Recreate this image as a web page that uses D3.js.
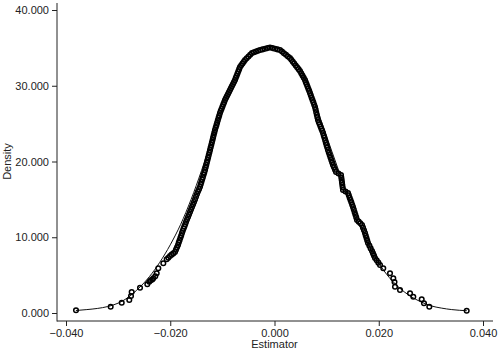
<!DOCTYPE html>
<html>
<head>
<meta charset="utf-8">
<title>Density of the estimator</title>
<script src="https://d3js.org/d3.v7.min.js"></script>
<style>
    body { margin: 0; background: #fff; }
    svg text { font-family: "Liberation Sans", Arial, sans-serif; fill: #222; }
</style>
</head>
<body>
<svg id="chart" width="498" height="351"></svg>
<script>
// kernel density evaluated at each estimate: [estimator, density]
const kdePoints = [
    [-0.03808, 0.36], [-0.03143, 0.83], [-0.02931, 1.36], [-0.02786, 1.72], [-0.02753, 2.24],
    [-0.02740, 2.77], [-0.02580, 3.34], [-0.02440, 3.79], [-0.02402, 4.13], [-0.02373, 4.33],
    [-0.02344, 4.42], [-0.02325, 4.58], [-0.02287, 4.84], [-0.02260, 5.24], [-0.02229, 5.90],
    [-0.02133, 6.56], [-0.02068, 7.09],
    [-0.02037, 7.30], [-0.02005, 7.52], [-0.01973, 7.70], [-0.01941, 7.87], [-0.01909, 8.05],
    [-0.01890, 8.36], [-0.01870, 8.67], [-0.01851, 8.98], [-0.01836, 9.30], [-0.01821, 9.61],
    [-0.01805, 9.93], [-0.01790, 10.24], [-0.01775, 10.56], [-0.01760, 10.85], [-0.01744, 11.14],
    [-0.01729, 11.43], [-0.01713, 11.72], [-0.01698, 12.01], [-0.01679, 12.34], [-0.01659, 12.67],
    [-0.01640, 13.00], [-0.01621, 13.33], [-0.01602, 13.66], [-0.01583, 13.99], [-0.01563, 14.32],
    [-0.01544, 14.65], [-0.01525, 15.00], [-0.01506, 15.36], [-0.01487, 15.71], [-0.01468, 16.03],
    [-0.01448, 16.35],
    [-0.01429, 16.67], [-0.01415, 16.99], [-0.01402, 17.30], [-0.01388, 17.62], [-0.01374, 17.93],
    [-0.01360, 18.25], [-0.01347, 18.56], [-0.01333, 18.88], [-0.01321, 19.21], [-0.01309, 19.54],
    [-0.01297, 19.87], [-0.01285, 20.20], [-0.01273, 20.53], [-0.01261, 20.86], [-0.01249, 21.19],
    [-0.01237, 21.52], [-0.01225, 21.85], [-0.01213, 22.18], [-0.01201, 22.51], [-0.01189, 22.84],
    [-0.01178, 23.17], [-0.01166, 23.50], [-0.01154, 23.83], [-0.01142, 24.16], [-0.01128, 24.48],
    [-0.01114, 24.80], [-0.01101, 25.12], [-0.01087, 25.44], [-0.01073, 25.76], [-0.01060, 26.08],
    [-0.01046, 26.40], [-0.01030, 26.69], [-0.01014, 26.97], [-0.00998, 27.26], [-0.00982, 27.55],
    [-0.00966, 27.83], [-0.00950, 28.12], [-0.00931, 28.38], [-0.00912, 28.65], [-0.00892, 28.91],
    [-0.00873, 29.18], [-0.00854, 29.44], [-0.00835, 29.70], [-0.00816, 29.97], [-0.00796, 30.23],
    [-0.00777, 30.50], [-0.00758, 30.76], [-0.00742, 31.05], [-0.00726, 31.33], [-0.00710, 31.62],
    [-0.00694, 31.90], [-0.00678, 32.19], [-0.00662, 32.47], [-0.00638, 32.70], [-0.00614, 32.94],
    [-0.00590, 33.17], [-0.00566, 33.40], [-0.00533, 33.63], [-0.00499, 33.86], [-0.00466, 34.09],
    [-0.00432, 34.32], [-0.00394, 34.42], [-0.00355, 34.52], [-0.00317, 34.62], [-0.00278, 34.72],
    [-0.00230, 34.80], [-0.00182, 34.88], [-0.00134, 34.97], [-0.00086, 35.05],
    [-0.00038, 34.97], [0.00010, 34.88], [0.00058, 34.80], [0.00106, 34.72], [0.00144, 34.51],
    [0.00182, 34.30], [0.00221, 34.08], [0.00259, 33.87], [0.00297, 33.66], [0.00324, 33.42],
    [0.00352, 33.17], [0.00379, 32.93], [0.00407, 32.68], [0.00434, 32.44], [0.00462, 32.19],
    [0.00489, 31.95], [0.00513, 31.65], [0.00537, 31.36], [0.00561, 31.06], [0.00585, 30.76],
    [0.00601, 30.47], [0.00617, 30.19], [0.00633, 29.90], [0.00649, 29.61], [0.00665, 29.33],
    [0.00681, 29.04], [0.00697, 28.73], [0.00713, 28.42], [0.00729, 28.12], [0.00745, 27.81],
    [0.00761, 27.50], [0.00777, 27.19], [0.00789, 26.85], [0.00800, 26.51], [0.00812, 26.16],
    [0.00823, 25.82], [0.00835, 25.48], [0.00851, 25.19], [0.00867, 24.91], [0.00883, 24.62],
    [0.00899, 24.33], [0.00915, 24.05], [0.00931, 23.76], [0.00945, 23.44], [0.00958, 23.12],
    [0.00972, 22.80], [0.00985, 22.48], [0.00999, 22.16], [0.01012, 21.84], [0.01026, 21.52],
    [0.01042, 21.19], [0.01058, 20.86], [0.01074, 20.53], [0.01090, 20.20], [0.01106, 19.87],
    [0.01122, 19.54], [0.01141, 19.23], [0.01161, 18.92], [0.01180, 18.61], [0.01228, 18.42],
    [0.01276, 18.22], [0.01282, 17.89], [0.01289, 17.56], [0.01295, 17.23], [0.01301, 16.90],
    [0.01308, 16.57], [0.01314, 16.24],
    [0.01362, 16.04], [0.01410, 15.84], [0.01426, 15.53], [0.01442, 15.22], [0.01458, 14.92],
    [0.01474, 14.61], [0.01490, 14.30], [0.01506, 13.99], [0.01521, 13.65], [0.01537, 13.31],
    [0.01552, 12.96], [0.01568, 12.62], [0.01583, 12.28], [0.01615, 12.06], [0.01647, 11.84],
    [0.01679, 11.62], [0.01698, 11.27], [0.01717, 10.91], [0.01736, 10.56], [0.01750, 10.23],
    [0.01765, 9.90], [0.01779, 9.57], [0.01794, 9.24], [0.01820, 8.89], [0.01845, 8.53],
    [0.01871, 8.18], [0.01890, 7.87], [0.01909, 7.57], [0.01928, 7.26], [0.01960, 6.95],
    [0.01992, 6.65], [0.02024, 6.34],
    [0.02087, 5.90], [0.02216, 5.24], [0.02279, 4.58], [0.02302, 4.09], [0.02312, 3.47],
    [0.02408, 3.04], [0.02600, 2.60], [0.02663, 2.15], [0.02824, 1.81], [0.02868, 1.28],
    [0.02970, 0.83], [0.03687, 0.30]
];

// reference density curve
const refX = [-0.0381, -0.036, -0.034, -0.032, -0.030, -0.028, -0.026, -0.024, -0.022, -0.020,
    -0.018, -0.016, -0.014, -0.012, -0.010, -0.008, -0.006, -0.004, -0.002, 0.000,
    0.002, 0.004, 0.006, 0.008, 0.010, 0.012, 0.014, 0.016, 0.018, 0.020,
    0.022, 0.024, 0.026, 0.028, 0.030, 0.032, 0.034, 0.0369];
const refY = [0.33, 0.45, 0.60, 0.85, 1.30, 2.10, 3.30, 4.80, 6.70, 9.00,
    11.70, 15.00, 18.80, 23.00, 27.10, 30.30, 32.80, 34.30, 34.95, 35.00,
    34.40, 32.90, 30.60, 27.20, 23.30, 19.40, 15.60, 12.10, 9.10, 6.60,
    4.70, 3.30, 2.25, 1.50, 0.95, 0.65, 0.45, 0.30];

const xTicks = [-0.04, -0.02, 0, 0.02, 0.04];
const yTicks = [0, 10, 20, 30, 40];

const svg = d3.select("#chart");
const frame = { left: 57, right: 493, top: 3, bottom: 321 };

const x = d3.scaleLinear().domain([-0.04, 0.04]).range([66, 483]);
const y = d3.scaleLinear().domain([0, 40]).range([313, 10]);
const fmt = d3.format(".3f");

// axes
const yAxis = svg.append("g")
    .attr("transform", `translate(${frame.left},0)`)
    .call(d3.axisLeft(y).tickValues(yTicks).tickFormat(fmt).tickSize(5).tickPadding(3));
const xAxis = svg.append("g")
    .attr("transform", `translate(0,${frame.bottom})`)
    .call(d3.axisBottom(x).tickValues(xTicks).tickFormat(fmt).tickSize(5).tickPadding(3));
[yAxis, xAxis].forEach(a => {
    a.select(".domain").remove();
    a.selectAll("line").attr("stroke", "#222");
    a.selectAll("text").style("font-size", "11px").attr("fill", "#222");
});

svg.append("line")
    .attr("x1", frame.left).attr("x2", frame.left)
    .attr("y1", frame.top).attr("y2", frame.bottom + 0.5)
    .attr("stroke", "#222");
svg.append("line")
    .attr("x1", frame.left).attr("x2", frame.right)
    .attr("y1", frame.bottom).attr("y2", frame.bottom)
    .attr("stroke", "#222");

svg.append("text")
    .attr("transform", `translate(11,${(y(0) + y(40)) / 2}) rotate(-90)`)
    .attr("text-anchor", "middle")
    .style("font-size", "11px")
    .text("Density");
svg.append("text")
    .attr("x", x(0))
    .attr("y", 348)
    .attr("text-anchor", "middle")
    .style("font-size", "11px")
    .text("Estimator");

// reference curve
const line = d3.line()
    .x(d => x(d[0]))
    .y(d => y(d[1]))
    .curve(d3.curveMonotoneX);
svg.append("path")
    .datum(refX.map((v, i) => [v, refY[i]]))
    .attr("d", line)
    .attr("fill", "none")
    .attr("stroke", "#111")
    .attr("stroke-width", 1);

// hollow markers
svg.append("g")
    .selectAll("circle")
    .data(kdePoints)
    .join("circle")
    .attr("cx", d => x(d[0]))
    .attr("cy", d => y(d[1]))
    .attr("r", 2.3)
    .attr("fill", "none")
    .attr("stroke", "#000")
    .attr("stroke-width", 1.5);
</script>
</body>
</html>
